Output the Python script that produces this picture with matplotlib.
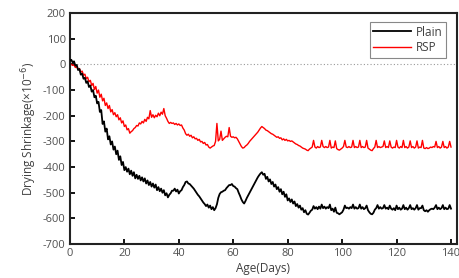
import numpy as np
import matplotlib.pyplot as plt

# ages sampled every half day, 0 .. 140
age = np.arange(0, 140.5, 0.5)

plain = [
    15, 18, 8, 12, -5, -2, -22, -18, -40, -36, -56, -52, -72, -66, -88, -82, -106, -100, -128, -122,
    -152, -146, -185, -178, -232, -222, -262, -250, -292, -280, -312, -300, -332, -320, -350, -336, -372, -358, -392, -380,
    -412, -400, -418, -406, -428, -414, -434, -420, -444, -430, -446, -434, -452, -440, -456, -444, -464, -452, -470, -458,
    -476, -464, -480, -468, -490, -478, -494, -484, -500, -490, -510, -502, -518, -508, -502, -492, -492, -484, -495, -488,
    -503, -494, -490, -478, -470, -458, -456, -464, -466, -472, -478, -484, -492, -500, -508, -514, -522, -530, -538, -544,
    -552, -546, -558, -550, -564, -556, -568, -560, -545, -520, -505, -498, -496, -492, -490, -482, -476, -470, -470, -466,
    -474, -476, -482, -486, -500, -512, -526, -536, -542, -532, -520, -510, -500, -490, -480, -470, -460, -450, -440, -432,
    -425, -420, -430, -426, -446, -438, -456, -448, -466, -458, -476, -468, -486, -478, -496, -486, -506, -496, -516, -506,
    -530, -522, -536, -526, -542, -534, -552, -544, -558, -550, -566, -560, -576, -568, -582, -585, -578, -570, -566, -552,
    -562, -556, -564, -554, -562, -546, -560, -554, -562, -556, -560, -546, -568, -562, -574, -558, -578, -580, -584, -580,
    -576, -566, -550, -560, -558, -562, -556, -560, -546, -562, -556, -562, -560, -546, -562, -556, -564, -560, -550, -568,
    -576, -582, -584, -578, -566, -560, -548, -562, -556, -562, -560, -548, -562, -558, -564, -550, -562, -566, -560, -568,
    -550, -564, -558, -566, -562, -548, -564, -558, -566, -560, -548, -564, -560, -566, -560, -548, -566, -560, -560, -550,
    -568, -572, -568, -574, -568, -564, -562, -564, -558, -548, -564, -558, -564, -560, -548, -564, -558, -564, -562, -548,
    -562,
]

rsp = [
    5, 0, -4, -2, -12, -8, -20, -16, -30, -26, -42, -38, -56, -50, -68, -62, -82, -74, -98, -86,
    -112, -100, -128, -116, -142, -132, -160, -150, -172, -160, -185, -176, -196, -188, -204, -196, -216, -208, -228, -220,
    -242, -236, -255, -250, -268, -262, -258, -250, -246, -238, -240, -228, -232, -222, -228, -214, -222, -206, -212, -180,
    -206, -196, -208, -198, -204, -190, -200, -186, -194, -172, -200, -210, -222, -230, -226, -230, -228, -234, -230, -236,
    -232, -238, -236, -248, -256, -270, -276, -272, -280, -276, -286, -282, -290, -288, -296, -292, -302, -300, -308, -304,
    -314, -312, -322, -326, -322, -318, -316, -300, -230, -298, -292, -260, -296, -290, -284, -280, -282, -246, -280, -284,
    -282, -286, -284, -290, -300, -310, -320, -326, -324, -318, -314, -308, -300, -294, -288, -282, -276, -270, -264, -256,
    -248, -242, -246, -250, -256, -258, -262, -266, -270, -272, -276, -280, -284, -282, -288, -286, -294, -290, -296, -292,
    -298, -296, -300, -298, -302, -306, -310, -312, -316, -318, -322, -326, -328, -330, -334, -336, -330, -326, -322, -296,
    -322, -326, -320, -324, -322, -296, -320, -324, -320, -324, -322, -296, -326, -322, -324, -298, -328, -332, -334, -330,
    -326, -320, -296, -322, -324, -320, -324, -322, -296, -324, -320, -324, -322, -296, -324, -320, -324, -322, -296, -326,
    -330, -334, -336, -328, -322, -296, -324, -320, -324, -322, -320, -298, -324, -320, -324, -298, -322, -326, -322, -324,
    -296, -322, -326, -320, -324, -296, -324, -320, -326, -322, -298, -324, -320, -326, -322, -298, -326, -322, -324, -296,
    -326, -328, -324, -328, -326, -322, -324, -320, -322, -300, -324, -320, -326, -322, -300, -324, -320, -326, -322, -300,
    -322,
]

x_ticks = [0, 20, 40, 60, 80, 100, 120, 140]
y_ticks = [-700, -600, -500, -400, -300, -200, -100, 0, 100, 200]

plt.rcParams['font.family'] = ['Open Sans', 'DejaVu Sans']
plt.rcParams['axes.unicode_minus'] = False

fig = plt.figure(figsize=(4.6, 2.78), dpi=100)
ax = fig.add_axes([0.152, 0.122, 0.8415, 0.831])

ax.axhline(0, color='#999999', lw=0.8, ls=(0, (1, 2)), zorder=1)
ax.plot(age, plain, color='black', lw=1.3, label='Plain', zorder=3)
ax.plot(age, rsp, color='#ff0000', lw=1.0, label='RSP', zorder=2)

ax.set_xlim(0, 142.2)
ax.set_ylim(-700, 200)
ax.set_xticks(x_ticks)
ax.set_yticks(y_ticks)
ax.tick_params(direction='in', length=3.5, width=1.3, labelsize=8,
               labelcolor='#505050', color='black', pad=3)
for s in ax.spines.values():
    s.set_linewidth(1.5)
    s.set_color('#222222')

ax.set_xlabel('Age(Days)', fontsize=8.5, color='#404040', labelpad=2)
ax.set_ylabel('Drying Shrinkage(×10$^{-6}$)', fontsize=8.5, color='#404040', labelpad=3)

leg = ax.legend(loc='upper right', fontsize=8.5, fancybox=False, framealpha=1,
                edgecolor='#888888', handlelength=3.2, borderpad=0.3,
                labelspacing=0.2, handletextpad=0.4, borderaxespad=0,
                bbox_to_anchor=(0.972, 0.961))
leg.get_frame().set_linewidth(0.8)
for t in leg.get_texts():
    t.set_color('#404040')

fig.savefig('out.png', dpi=100)
